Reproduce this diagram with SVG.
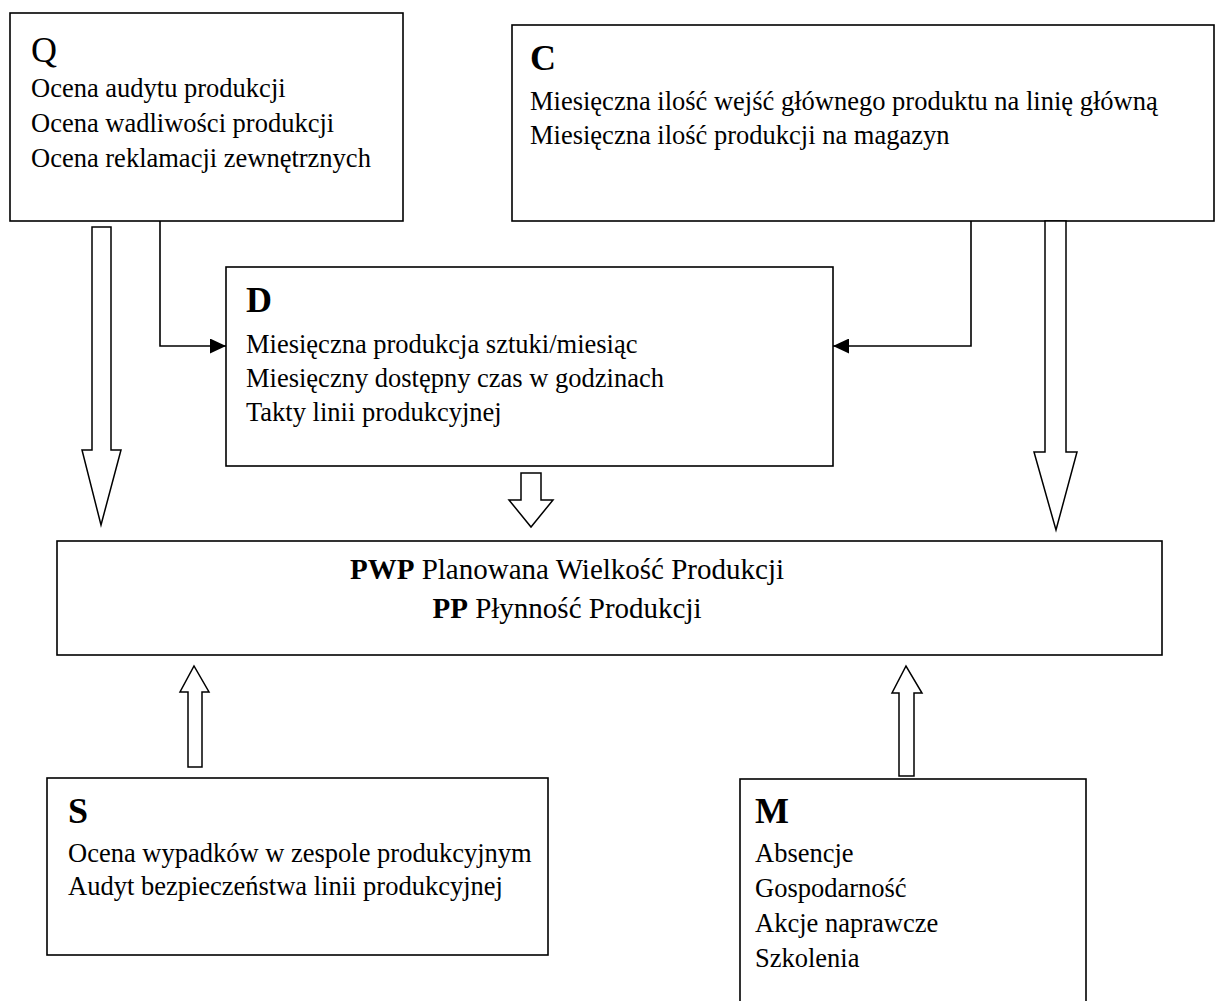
<svg xmlns="http://www.w3.org/2000/svg" width="1215" height="1001" viewBox="0 0 1215 1001">
  <style>
    .box { fill: #ffffff; stroke: #000000; stroke-width: 1.6; }
    .hollow { fill: #ffffff; stroke: #000000; stroke-width: 1.5; stroke-linejoin: miter; }
    .link { fill: none; stroke: #000000; stroke-width: 1.6; }
    .title { font-family: "Liberation Serif", "Times New Roman", serif; font-size: 36px; font-weight: bold; fill: #000000; }
    .title-reg { font-family: "Liberation Serif", "Times New Roman", serif; font-size: 36px; fill: #000000; }
    .body { font-family: "Liberation Serif", "Times New Roman", serif; font-size: 26.5px; fill: #000000; }
    .main { font-family: "Liberation Serif", "Times New Roman", serif; font-size: 29px; fill: #000000; }
    .b { font-weight: bold; }
  </style>
  <defs>
    <marker id="head" markerUnits="userSpaceOnUse" markerWidth="16" markerHeight="15" refX="16" refY="7.5" orient="auto">
      <path d="M0,0 L16,7.5 L0,15 Z" fill="#000000"/>
    </marker>
  </defs>

  <rect width="1215" height="1001" fill="#ffffff"/>

  <!-- Q: quality -->
  <g id="node-q">
    <rect class="box" x="10" y="13" width="393" height="208"/>
    <text class="title-reg" x="31" y="62">Q</text>
    <text class="body" x="31" y="97">Ocena audytu produkcji</text>
    <text class="body" x="31" y="132">Ocena wadliwości produkcji</text>
    <text class="body" x="31" y="167">Ocena reklamacji zewnętrznych</text>
  </g>

  <!-- C: cost -->
  <g id="node-c">
    <rect class="box" x="512" y="25" width="702" height="196"/>
    <text class="title" x="530" y="70">C</text>
    <text class="body" x="530" y="110">Miesięczna ilość wejść głównego produktu na linię główną</text>
    <text class="body" x="530" y="144">Miesięczna ilość produkcji na magazyn</text>
  </g>

  <!-- D: delivery -->
  <g id="node-d">
    <rect class="box" x="226" y="267" width="607" height="199"/>
    <text class="title" x="246" y="312">D</text>
    <text class="body" x="246" y="353">Miesięczna produkcja sztuki/miesiąc</text>
    <text class="body" x="246" y="387">Miesięczny dostępny czas w godzinach</text>
    <text class="body" x="246" y="421">Takty linii produkcyjnej</text>
  </g>

  <!-- central result box -->
  <g id="node-pwp">
    <rect class="box" x="57" y="541" width="1105" height="114"/>
    <text class="main" x="567" y="579" text-anchor="middle"><tspan class="b">PWP</tspan> Planowana Wielkość Produkcji</text>
    <text class="main" x="567" y="618" text-anchor="middle"><tspan class="b">PP</tspan> Płynność Produkcji</text>
  </g>

  <!-- S: safety -->
  <g id="node-s">
    <rect class="box" x="47" y="778" width="501" height="177"/>
    <text class="title" x="68" y="823">S</text>
    <text class="body" x="68" y="862">Ocena wypadków w zespole produkcyjnym</text>
    <text class="body" x="68" y="895">Audyt bezpieczeństwa linii produkcyjnej</text>
  </g>

  <!-- M: people -->
  <g id="node-m">
    <rect class="box" x="740" y="779" width="346" height="240"/>
    <text class="title" x="755" y="823">M</text>
    <text class="body" x="755" y="862">Absencje</text>
    <text class="body" x="755" y="897">Gospodarność</text>
    <text class="body" x="755" y="932">Akcje naprawcze</text>
    <text class="body" x="755" y="967">Szkolenia</text>
  </g>

  <!-- connectors -->
  <g id="connectors">
    <path class="link" d="M160,221 V346 H226" marker-end="url(#head)"/>
    <path class="link" d="M971,221 V346 H833" marker-end="url(#head)"/>
    <polygon class="hollow" points="92,227 111,227 111,450 121,450 101,525 82,450 92,450"/>
    <polygon class="hollow" points="1045,221 1066,221 1066,452 1077,452 1056,530 1034,452 1045,452"/>
    <polygon class="hollow" points="521,473 541,473 541,500 553,500 531,527 509,500 521,500"/>
    <polygon class="hollow" points="188,767 202,767 202,692 209,692 194,666 180,692 188,692"/>
    <polygon class="hollow" points="899,776 914,776 914,693 922,693 906,666 892,693 899,693"/>
  </g>
</svg>
